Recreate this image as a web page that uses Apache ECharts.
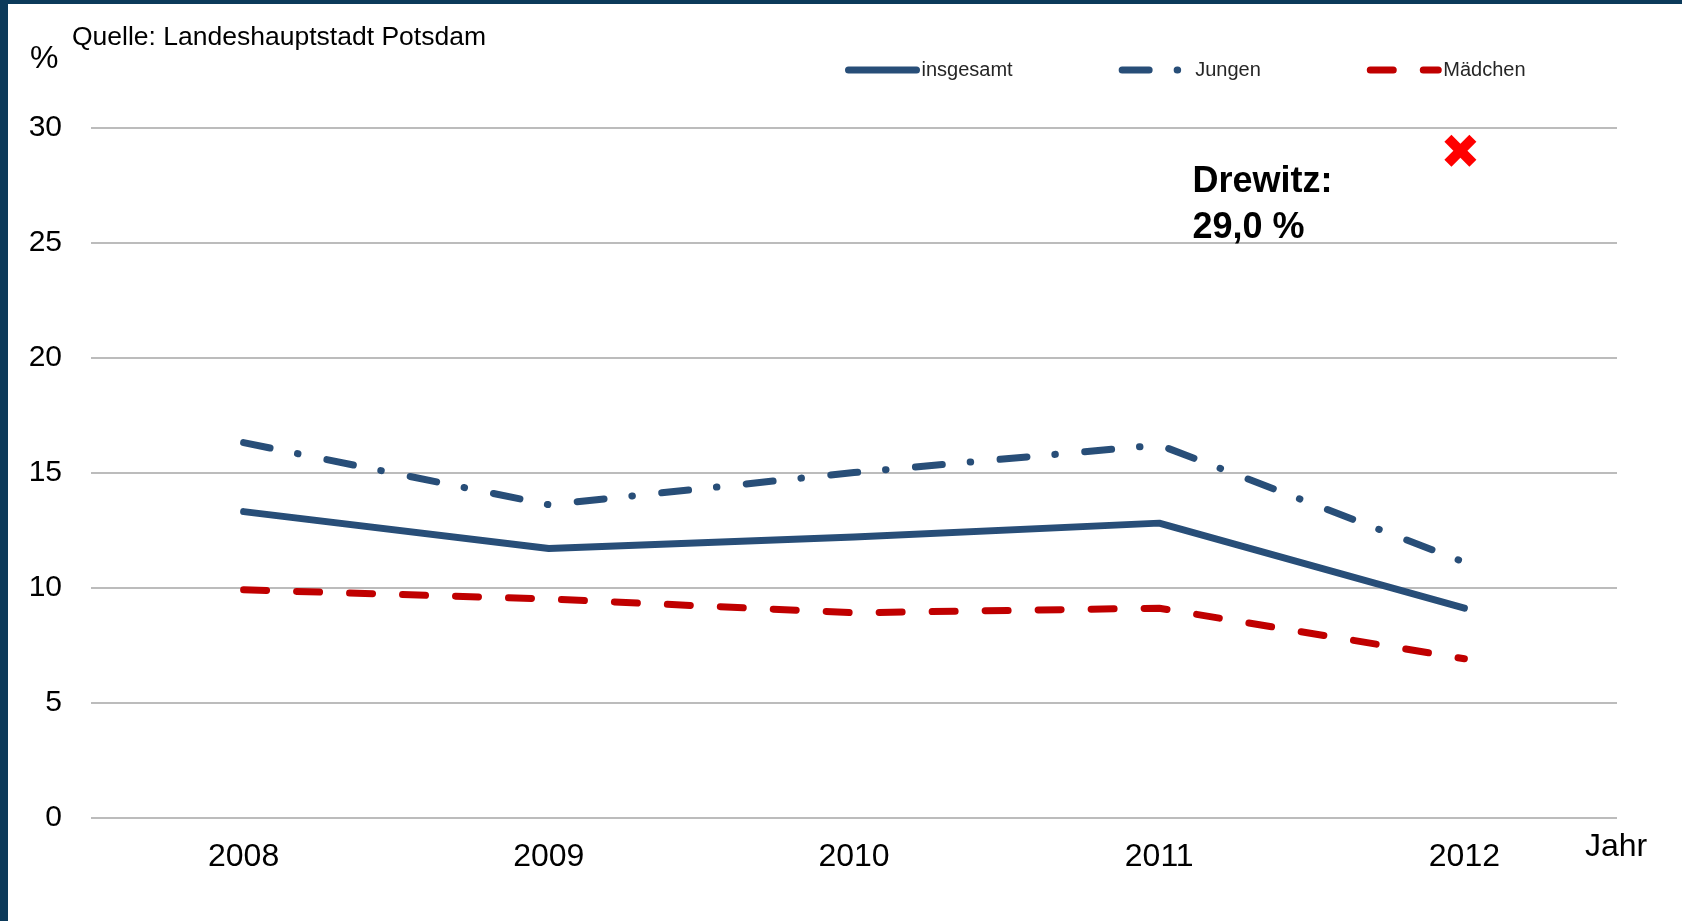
<!DOCTYPE html>
<html>
<head>
<meta charset="utf-8">
<script src="https://cdn.jsdelivr.net/npm/echarts@6/dist/echarts.min.js"></script>
<style>
html,body{margin:0;padding:0;background:#fff;}
#chart{position:absolute;left:0;top:0;width:1682px;height:921px;}
#bt{position:absolute;left:0;top:0;width:1682px;height:4px;background:#0c3a5a;}
#bl{position:absolute;left:0;top:0;width:8px;height:921px;background:#0c3a5a;}
</style>
</head>
<body>
<div id="chart"></div>
<div id="bt"></div>
<div id="bl"></div>
<script>
const years = ['2008', '2009', '2010', '2011', '2012'];
const insgesamt = [13.3, 11.7, 12.2, 12.8, 9.1];
const jungen = [16.3, 13.6, 15.0, 16.2, 11.1];
const maedchen = [9.9, 9.5, 8.9, 9.1, 6.9];
const drewitz = [['2012', 29.0]];
const yTicks = [0, 5, 10, 15, 20, 25, 30];

const navy = '#284e78';
const red = '#c00000';
const FONT = 'Liberation Sans, Arial, sans-serif';

const chart = echarts.init(document.getElementById('chart'));
chart.setOption({
  animation: false,
  backgroundColor: '#fff',
  textStyle: { fontFamily: FONT },
  grid: { left: 91, right: 65, top: 127.7, bottom: 103.6 },
  legend: {
    data: ['insgesamt', 'Jungen', 'Mädchen'],
    left: 840, top: 55,
    itemWidth: 68, itemHeight: 24, itemGap: 106,
    itemStyle: { opacity: 0 },
    lineStyle: { width: 7, cap: 'round' },
    textStyle: { fontSize: 20, color: '#262626', fontFamily: FONT }
  },
  xAxis: {
    type: 'category', data: years, boundaryGap: true,
    axisLine: { show: false }, axisTick: { show: false },
    axisLabel: { fontSize: 32, color: '#000', margin: 24, fontFamily: FONT }
  },
  yAxis: {
    type: 'value', min: yTicks[0], max: yTicks[yTicks.length - 1], interval: 5,
    axisLine: { show: false }, axisTick: { show: false },
    axisLabel: { fontSize: 30, color: '#000', margin: 29, fontFamily: FONT },
    splitLine: { lineStyle: { color: '#a6a6a6', width: 1.5 } }
  },
  graphic: [
    { type: 'text', left: 72, top: 24, style: { text: 'Quelle: Landeshauptstadt Potsdam', font: '26.5px ' + FONT, fill: '#000' } },
    { type: 'text', left: 30, top: 43, style: { text: '%', font: '32px ' + FONT, fill: '#000' } },
    { type: 'text', left: 1585, top: 831, style: { text: 'Jahr', font: '32px ' + FONT, fill: '#000' } }
  ],
  series: [
    {
      name: 'insgesamt', type: 'line', data: insgesamt, symbol: 'none',
      lineStyle: { color: navy, width: 7, cap: 'round', join: 'round' },
      itemStyle: { color: navy }, z: 3
    },
    {
      name: 'Jungen', type: 'line', data: jungen, symbol: 'none',
      lineStyle: { color: navy, width: 7, type: [27, 28, 0.5, 29.5], cap: 'round', join: 'round' },
      itemStyle: { color: navy }, z: 3
    },
    {
      name: 'Mädchen', type: 'line', data: maedchen, symbol: 'none',
      lineStyle: { color: red, width: 7, type: [23, 30], cap: 'round', join: 'round' },
      itemStyle: { color: red }, z: 3
    },
    {
      name: 'Drewitz', type: 'scatter', data: drewitz,
      symbol: 'path://M0,22L22,0L50,28L78,0L100,22L72,50L100,78L78,100L50,72L22,100L0,78L28,50Z',
      symbolSize: 32, symbolOffset: [-4, 0],
      itemStyle: { color: '#ff0000', opacity: 1 },
      label: {
        show: true, position: [-252, 24], align: 'left', verticalAlign: 'top',
        formatter: p => 'Drewitz:\n' + p.value[1].toFixed(1).replace('.', ',') + ' %',
        fontSize: 36, fontWeight: 'bold', color: '#000', lineHeight: 46, fontFamily: FONT
      },
      z: 4
    }
  ]
});
</script>
</body>
</html>
